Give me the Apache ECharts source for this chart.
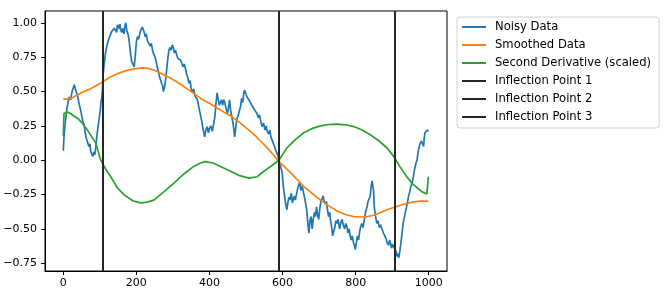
<!DOCTYPE html>
<html>
<head>
<meta charset="utf-8">
<script src="https://cdn.jsdelivr.net/npm/echarts@6/dist/echarts.min.js"></script>
<style>
html,body{margin:0;padding:0;background:#fff;}
#chart{width:668px;height:302px;}
</style>
</head>
<body>
<div id="chart"></div>
<script>
// ---- data ----
const noisyX = [0,2,5,9,13,16,20,24,28,30,33,36,40,43,47,50,54,57,60,63,66,70,73,75,78,81,84,86,89,92,96,99,101,103,105,107,109,112,116,120,125,130,133,136,140,143,146,148,152,155,157,160,163,166,169,171,174,177,180,184,187,189,191,194,197,200,203,206,210,213,216,219,221,224,227,230,234,238,241,245,248,251,254,257,260,263,266,269,272,274,277,280,283,286,289,292,295,298,301,304,307,311,314,318,321,325,328,331,335,338,341,344,347,350,353,357,360,364,367,370,373,377,380,383,387,390,394,397,400,404,408,412,415,418,421,424,427,430,433,436,439,442,446,449,452,455,458,461,465,469,472,475,478,482,485,488,491,494,496,500,503,507,510,512,516,519,521,525,530,534,537,540,544,548,552,555,558,562,565,568,571,575,578,581,585,588,590,594,597,599,602,605,608,612,615,618,620,624,627,629,632,635,638,641,644,647,650,654,657,660,663,666,669,672,675,678,681,684,687,690,693,696,699,702,705,708,711,713,717,720,723,726,729,731,734,737,740,743,746,749,752,756,760,763,766,770,773,776,779,782,785,788,791,794,797,799,802,805,808,811,814,817,820,824,827,831,834,837,840,842,845,847,849,851,854,858,861,865,868,872,876,880,883,886,890,893,895,898,901,904,907,910,913,916,918,921,924,927,930,933,936,940,943,945,948,951,954,958,961,965,968,971,974,977,980,983,986,988,990,993,996,999];
const noisyY = [0.07,0.17,0.26,0.36,0.42,0.46,0.44,0.50,0.53,0.55,0.52,0.51,0.46,0.415,0.37,0.33,0.28,0.26,0.20,0.16,0.137,0.10,0.12,0.064,0.05,0.028,0.06,0.04,0.089,0.18,0.26,0.32,0.354,0.42,0.45,0.50,0.62,0.70,0.79,0.84,0.887,0.90,0.94,0.935,0.96,0.97,0.93,0.985,0.96,0.99,0.95,0.93,0.96,0.92,0.98,1.0,0.94,0.92,0.875,0.78,0.72,0.706,0.73,0.68,0.76,0.86,0.90,0.88,0.93,0.95,0.97,0.95,0.935,0.90,0.92,0.87,0.85,0.83,0.85,0.79,0.80,0.75,0.72,0.68,0.65,0.61,0.585,0.56,0.54,0.50,0.53,0.585,0.66,0.74,0.80,0.82,0.80,0.84,0.82,0.78,0.80,0.76,0.74,0.75,0.73,0.70,0.68,0.70,0.66,0.62,0.60,0.56,0.58,0.52,0.49,0.52,0.47,0.48,0.44,0.40,0.36,0.31,0.27,0.22,0.17,0.22,0.245,0.20,0.23,0.25,0.21,0.22,0.32,0.42,0.49,0.44,0.40,0.39,0.44,0.40,0.44,0.42,0.37,0.34,0.38,0.44,0.36,0.32,0.26,0.17,0.24,0.30,0.32,0.36,0.39,0.45,0.42,0.49,0.51,0.48,0.46,0.47,0.43,0.44,0.40,0.41,0.39,0.36,0.34,0.31,0.33,0.29,0.245,0.27,0.22,0.25,0.21,0.19,0.22,0.17,0.15,0.12,0.10,0.076,0.05,0.03,0.0,-0.04,-0.05,-0.09,-0.19,-0.20,-0.31,-0.36,-0.30,-0.27,-0.29,-0.24,-0.31,-0.30,-0.26,-0.29,-0.25,-0.21,-0.18,-0.16,-0.22,-0.19,-0.23,-0.27,-0.31,-0.36,-0.45,-0.53,-0.44,-0.41,-0.50,-0.43,-0.38,-0.41,-0.34,-0.40,-0.43,-0.35,-0.30,-0.29,-0.26,-0.29,-0.32,-0.30,-0.36,-0.41,-0.38,-0.43,-0.48,-0.55,-0.55,-0.49,-0.44,-0.46,-0.43,-0.50,-0.45,-0.43,-0.47,-0.50,-0.46,-0.48,-0.53,-0.50,-0.55,-0.58,-0.55,-0.60,-0.62,-0.65,-0.60,-0.55,-0.58,-0.52,-0.48,-0.46,-0.49,-0.43,-0.38,-0.34,-0.30,-0.29,-0.26,-0.20,-0.15,-0.16,-0.22,-0.34,-0.40,-0.46,-0.44,-0.49,-0.47,-0.50,-0.53,-0.55,-0.57,-0.60,-0.62,-0.58,-0.60,-0.64,-0.61,-0.63,-0.62,-0.66,-0.70,-0.68,-0.71,-0.66,-0.60,-0.53,-0.46,-0.42,-0.38,-0.33,-0.29,-0.26,-0.23,-0.19,-0.17,-0.12,-0.07,-0.02,0.0,0.06,0.10,0.125,0.14,0.12,0.10,0.17,0.20,0.19,0.22,0.21];

const smoothX = [0,10,25,48,75,102,125,148,170,193,216,232,248,265,285,308,330,353,376,400,421,440,458,485,503,521,540,558,575,590,606,622,640,658,680,704,726,749,772,795,817,835,849,868,886,908,931,955,977,999];
const smoothY = [0.447,0.445,0.455,0.49,0.52,0.56,0.60,0.63,0.65,0.665,0.672,0.668,0.657,0.635,0.61,0.575,0.536,0.495,0.45,0.415,0.38,0.35,0.323,0.27,0.23,0.19,0.14,0.09,0.04,-0.01,-0.05,-0.09,-0.14,-0.19,-0.24,-0.29,-0.33,-0.37,-0.395,-0.41,-0.413,-0.408,-0.40,-0.38,-0.36,-0.34,-0.32,-0.305,-0.298,-0.297];

const derivX = [0,2,6,11,20,30,39,52,66,78,89,95,102,115,130,148,166,190,212,230,248,275,303,330,357,375,389,410,430,458,480,508,530,549,570,590,612,635,658,680,704,726,749,772,795,818,840,864,886,904,922,940,955,968,982,995,997,999];
const derivY = [0.178,0.34,0.348,0.35,0.34,0.32,0.306,0.27,0.22,0.17,0.125,0.07,0.004,-0.06,-0.12,-0.20,-0.25,-0.295,-0.31,-0.305,-0.29,-0.23,-0.166,-0.10,-0.045,-0.02,-0.01,-0.02,-0.045,-0.08,-0.11,-0.13,-0.12,-0.08,-0.04,0.0,0.09,0.15,0.20,0.23,0.25,0.26,0.263,0.258,0.245,0.22,0.185,0.14,0.089,0.028,-0.05,-0.12,-0.17,-0.20,-0.23,-0.245,-0.25,-0.12];

const inflections = [107, 590, 908];
const seriesNames = ['Noisy Data','Smoothed Data','Second Derivative (scaled)','Inflection Point 1','Inflection Point 2','Inflection Point 3'];
const xTicks = [0,200,400,600,800,1000];
const yTicks = [-0.75,-0.5,-0.25,0,0.25,0.5,0.75,1.0];

// ---- chart ----
const FONT = 'DejaVu Sans';
const zip = (xs, ys) => xs.map((x, i) => [x, ys[i]]);
const fmtY = v => { const s = Number(v).toFixed(2); return s.charAt(0) === '-' ? '\u2212' + s.slice(1) : s; };

const lineSeries = (name, data, color) => ({
  name, type: 'line', data, symbol: 'none', showSymbol: false, color,
  lineStyle: { color, width: 1.7 }, animation: false, silent: true, z: 3
});

const series = [
  lineSeries(seriesNames[0], zip(noisyX, noisyY), '#1f77b4'),
  lineSeries(seriesNames[1], zip(smoothX, smoothY), '#ff7f0e'),
  lineSeries(seriesNames[2], zip(derivX, derivY), '#2ca02c')
];
inflections.forEach((xv, k) => {
  series.push({
    name: seriesNames[3 + k], type: 'line', data: [], color: '#262626',
    symbol: 'none', animation: false, silent: true,
    markLine: {
      silent: true, symbol: 'none', animation: false,
      label: { show: false },
      lineStyle: { color: '#262626', width: 2, type: 'solid' },
      data: [{ xAxis: xv }]
    }
  });
});

const chart = echarts.init(document.getElementById('chart'), null, { renderer: 'canvas' });
chart.setOption({
  animation: false,
  backgroundColor: '#fff',
  textStyle: { fontFamily: FONT },
  grid: { left: 45, right: 221, top: 11, bottom: 31, show: true, borderColor: '#000', borderWidth: 1, containLabel: false },
  xAxis: {
    type: 'value', min: -50, max: 1050,
    axisLine: { show: true, onZero: false, lineStyle: { color: '#000', width: 1 } },
    axisTick: { show: true, customValues: xTicks, length: 4, lineStyle: { color: '#000' } },
    axisLabel: { customValues: xTicks, color: '#000', fontFamily: FONT, fontSize: 11, margin: 7, formatter: v => String(v) },
    splitLine: { show: false }
  },
  yAxis: {
    type: 'value', min: -0.806, max: 1.086,
    axisLine: { show: true, onZero: false, lineStyle: { color: '#000', width: 1 } },
    axisTick: { show: true, customValues: yTicks, length: 4, lineStyle: { color: '#000' } },
    axisLabel: { customValues: yTicks, color: '#000', fontFamily: FONT, fontSize: 11, margin: 8, formatter: fmtY },
    splitLine: { show: false }
  },
  legend: {
    data: seriesNames,
    orient: 'vertical', left: 457, top: 17,
    padding: [4, 8, 5, 5],
    itemWidth: 24, itemHeight: 2, itemGap: 6,
    icon: 'rect',
    backgroundColor: '#fff', borderColor: '#d0d0d0', borderWidth: 1, borderRadius: 3,
    textStyle: { color: '#000', fontFamily: FONT, fontSize: 11.6, lineHeight: 12, padding: [0, 0, 0, 4] },
    selectedMode: false
  },
  series
});
</script>
</body>
</html>
